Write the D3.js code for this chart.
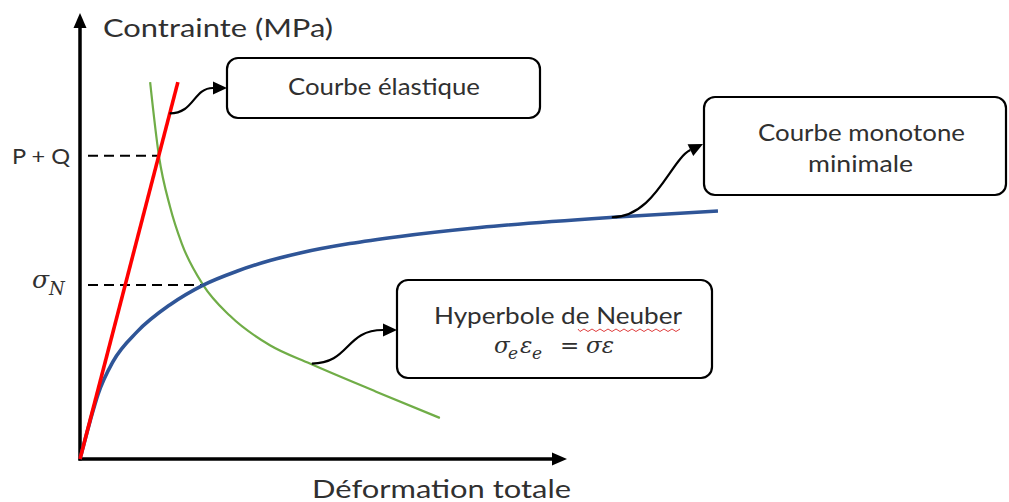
<!DOCTYPE html>
<html>
<head>
<meta charset="utf-8">
<script src="https://cdn.jsdelivr.net/npm/d3@7"></script>
<style>
  body { margin: 0; background: #fff; }
  svg { display: block; }
  .lbl { font-family: Lato, "Open Sans", sans-serif; fill: #303030; }
  .math { font-family: "DejaVu Serif", serif; font-style: italic; fill: #303030; }
</style>
</head>
<body>
<svg width="1009" height="502"></svg>
<script>
// strain / stress values (arbitrary units, 0..10 on both axes)
var elasticStrain = [0, 2.01];
var elasticStress = [0, 8.45];

var neuberStrain = [1.44, 1.62, 1.85, 2.09, 2.53, 3.08, 3.90, 4.72, 6.08, 7.39];
var neuberStress = [8.45, 6.80, 5.65, 4.83, 3.90, 3.21, 2.55, 2.14, 1.51, 0.92];

var monoStrain = [0, 0.21, 0.37, 0.68, 1.17, 1.85, 2.53, 3.22, 3.90, 4.52, 5.54, 6.57, 8.21, 10.94, 13.10];
var monoStress = [0, 0.86, 1.45, 2.19, 2.85, 3.46, 3.90, 4.21, 4.45, 4.62, 4.83, 4.99, 5.19, 5.42, 5.56];

// reference levels on the stress axis
var levelNames = ["P + Q", "sigmaN"];
var levelStress = [6.80, 3.90];
var levelStrain = [1.64, 2.53];

// where the callouts touch the curves
var calloutNames = ["Courbe élastique", "Courbe monotone minimale", "Hyperbole de Neuber"];
var calloutStrain = [1.84, 10.92, 4.76];
var calloutStress = [7.75, 5.42, 2.14];

var xTitle = "Déformation totale";
var yTitle = "Contrainte (MPa)";

var svg = d3.select("svg");

var x = d3.scaleLinear().domain([0, 10]).range([80, 567]);
var y = d3.scaleLinear().domain([0, 10]).range([459, 13]);

var ink = "#000";

// axes (no ticks), with arrow heads
var axG = svg.append("g");
axG.append("line")
    .attr("x1", x(0)).attr("y1", y(0) + 1.5)
    .attr("x2", x(0)).attr("y2", y(10) + 12)
    .attr("stroke", ink).attr("stroke-width", 3.5);
axG.append("line")
    .attr("x1", x(0) - 1.5).attr("y1", y(0))
    .attr("x2", x(10) - 12).attr("y2", y(0))
    .attr("stroke", ink).attr("stroke-width", 3.5);
axG.append("path")
    .attr("d", "M" + x(0) + "," + y(10) + "L" + (x(0) - 6.5) + "," + (y(10) + 15) + "L" + (x(0) + 6.5) + "," + (y(10) + 15) + "Z")
    .attr("fill", ink);
axG.append("path")
    .attr("d", "M" + x(10) + "," + y(0) + "L" + (x(10) - 15) + "," + (y(0) - 6.5) + "L" + (x(10) - 15) + "," + (y(0) + 6.5) + "Z")
    .attr("fill", ink);

svg.append("text").attr("class", "lbl")
    .attr("x", 103).attr("y", 37)
    .attr("font-size", 25)
    .attr("textLength", 230).attr("lengthAdjust", "spacingAndGlyphs")
    .text(yTitle);

svg.append("text").attr("class", "lbl")
    .attr("x", 312).attr("y", 498)
    .attr("font-size", 25)
    .attr("textLength", 259).attr("lengthAdjust", "spacingAndGlyphs")
    .text(xTitle);

// dashed reference levels
levelStress.forEach(function(s, i) {
    svg.append("line")
	.attr("x1", x(0) + 8).attr("x2", x(levelStrain[i]))
	.attr("y1", y(s)).attr("y2", y(s))
	.attr("stroke", ink).attr("stroke-width", 2)
	.attr("stroke-dasharray", "10,6");
});

svg.append("text").attr("class", "lbl")
    .attr("x", 12).attr("y", y(levelStress[0]) + 8.5)
    .attr("font-size", 21)
    .attr("textLength", 58).attr("lengthAdjust", "spacingAndGlyphs")
    .text(levelNames[0]);

var sN = svg.append("text").attr("class", "math")
    .attr("x", 32).attr("y", y(levelStress[1]) + 3)
    .attr("font-size", 25);
sN.append("tspan").text("σ");
sN.append("tspan").attr("dy", 7).attr("font-size", 18).text("N");

// curves
var line = d3.line()
    .x(function(d) { return x(d[0]); })
    .y(function(d) { return y(d[1]); });

var curve = d3.line()
    .curve(d3.curveMonotoneX)
    .x(function(d) { return x(d[0]); })
    .y(function(d) { return y(d[1]); });

svg.append("path")
    .datum(d3.zip(neuberStrain, neuberStress))
    .attr("d", curve)
    .attr("fill", "none").attr("stroke", "#70AD47").attr("stroke-width", 2.2);

svg.append("path")
    .datum(d3.zip(monoStrain, monoStress))
    .attr("d", curve)
    .attr("fill", "none").attr("stroke", "#2F5597").attr("stroke-width", 3.6);

svg.append("path")
    .datum(d3.zip(elasticStrain, elasticStress))
    .attr("d", line)
    .attr("fill", "none").attr("stroke", "#FF0000").attr("stroke-width", 3.6);

// callout boxes
var boxes = [
    { x: 227, y: 58, w: 313, h: 60, lines: [{ t: "Courbe élastique", x: 288, y: 95, w: 192 }] },
    { x: 704, y: 97, w: 302, h: 98, lines: [{ t: "Courbe monotone", x: 758, y: 140.5, w: 207 },
					     { t: "minimale", x: 808, y: 172, w: 105 }] },
    { x: 397, y: 280, w: 315, h: 98, lines: [{ t: "Hyperbole de Neuber", x: 434, y: 323.5, w: 248 }] }
];

boxes.forEach(function(b) {
    svg.append("rect")
	.attr("x", b.x).attr("y", b.y).attr("width", b.w).attr("height", b.h)
	.attr("rx", 11).attr("ry", 11)
	.attr("fill", "#fff").attr("stroke", ink).attr("stroke-width", 2.2);
    b.lines.forEach(function(l) {
	svg.append("text").attr("class", "lbl")
	    .attr("x", l.x).attr("y", l.y)
	    .attr("font-size", 24)
	    .attr("textLength", l.w).attr("lengthAdjust", "spacingAndGlyphs")
	    .text(l.t);
    });
});

// spell-check squiggle under "Neuber"
var sq = "M578,329";
for (var i = 0; i < 26; i++) {
    sq += "L" + (580 + i * 4) + "," + (i % 2 ? 329 : 331.5);
}
svg.append("path").attr("d", sq)
    .attr("fill", "none").attr("stroke", "#e04040").attr("stroke-width", 1);

// Neuber formula
var fm = svg.append("text").attr("class", "math").attr("font-size", 23).attr("y", 353);
fm.append("tspan").attr("x", 494).text("σ");
fm.append("tspan").attr("x", 508).attr("dy", 6).attr("font-size", 17).text("e");
fm.append("tspan").attr("x", 520).attr("dy", -6).text("ε");
fm.append("tspan").attr("x", 532).attr("dy", 6).attr("font-size", 17).text("e");
fm.append("tspan").attr("x", 560).attr("dy", -6).style("font-style", "normal").text("=");
fm.append("tspan").attr("x", 586).text("σε");

// curved connectors with arrow heads
var tips = [[227, 88], [703, 144], [397, 330]];
var bends = [[25, 20], [43, 22], [38, 38]];

calloutNames.forEach(function(n, i) {
    var sx = x(calloutStrain[i]), sy = y(calloutStress[i]);
    var tx = tips[i][0], ty = tips[i][1];
    var ang = i == 1 ? -0.45 : 0;
    var ex = tx - 14 * Math.cos(ang), ey = ty - 14 * Math.sin(ang);
    var c1x = sx + bends[i][0], c1y = sy;
    var c2x = ex - bends[i][1] * Math.cos(ang), c2y = ey - bends[i][1] * Math.sin(ang);
    svg.append("path")
	.attr("d", "M" + sx + "," + sy + "C" + c1x + "," + c1y + " " + c2x + "," + c2y + " " + ex + "," + ey)
	.attr("fill", "none").attr("stroke", ink).attr("stroke-width", 2.2);
    var px = -Math.sin(ang), py = Math.cos(ang);
    svg.append("path")
	.attr("d", "M" + tx + "," + ty +
	      "L" + (ex + 6.5 * px) + "," + (ey + 6.5 * py) +
	      "L" + (ex - 6.5 * px) + "," + (ey - 6.5 * py) + "Z")
	.attr("fill", ink);
});
</script>
</body>
</html>
